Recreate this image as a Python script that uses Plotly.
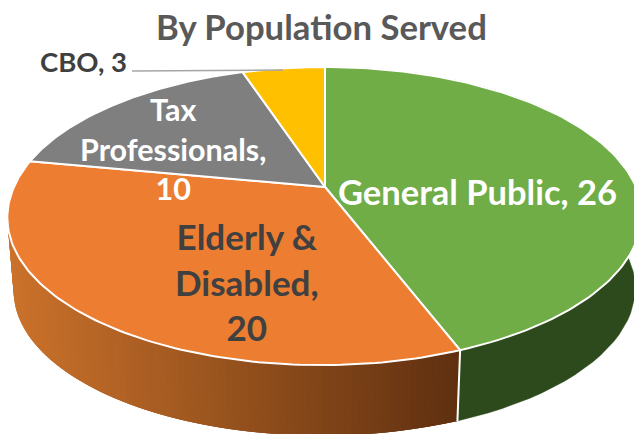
import numpy as np
import plotly.graph_objects as go

# Slice data, clockwise from twelve o'clock
categories = ["General Public", "Elderly & Disabled", "Tax Professionals", "CBO"]
values = [26, 20, 10, 3]
slice_colors = ["#70AD47", "#ED7D31", "#7F7F7F", "#FFC000"]

WIDTH, HEIGHT = 634, 434

# Perspective camera for the pie, in canvas pixels
CX, CY = 325.0, 187.0
RX, RY = 311.0, 143.4
TILT = 0.195
SHEAR = -0.02
DEPTH = 74.0
BASE_SCALE = 0.98


def project(deg, lowered=False):
    """Map a clockwise angle on the pie's rim to canvas coordinates."""
    a = np.radians(deg)
    u, v = np.sin(a), np.cos(a)
    w = 1 + TILT * v
    y = CY - RY * v / w
    # The near half of the rim leans slightly left
    x = CX + RX * u / w + SHEAR * np.maximum(y - CY, 0)
    if lowered:
        x = CX + (x - CX) * BASE_SCALE
        y = CY + (y - CY) * BASE_SCALE + DEPTH
    return x, y


def lerp_color(c0, c1, t):
    return "rgb({},{},{})".format(*[round(a + (b - a) * t) for a, b in zip(c0, c1)])


def patch(xs, ys, fill, line_color, line_width):
    return go.Scatter(
        x=list(xs), y=list(ys), mode="lines", fill="toself", fillcolor=fill,
        line=dict(color=line_color, width=line_width), hoverinfo="skip", showlegend=False,
    )


edges = np.concatenate([[0], np.cumsum(values)]) / sum(values) * 360
fig = go.Figure()

# Outer wall: green stays flat, orange darkens toward the front right
green_steps = np.linspace(edges[0], edges[1], 60)
tx, ty = project(green_steps)
bx, by = project(green_steps, True)
fig.add_trace(patch(np.r_[tx, bx[::-1]], np.r_[ty, by[::-1]], "#2C4A1C", "#2C4A1C", 0.5))

# Each orange band reaches back under the band painted after it, so no seams show
orange_light, orange_dark = (203, 114, 43), (94, 47, 15)
orange_steps = np.linspace(edges[1], min(edges[2], 285), 110)
orange_x = project(orange_steps)[0]
x_left, x_right = orange_x.min(), orange_x.max()
for k in range(len(orange_steps) - 1, 0, -1):
    seg = orange_steps[max(k - 3, 0):k + 1]
    tx, ty = project(seg)
    bx, by = project(seg, True)
    t = (x_right - project(orange_steps[k])[0]) / (x_right - x_left)
    shade = lerp_color(orange_dark, orange_light, t)
    fig.add_trace(patch(np.r_[tx, bx[::-1]], np.r_[ty, by[::-1]], shade, shade, 0.01))

# Seam between the two visible wall sections
sx, sy = project(edges[1])
lx, ly = project(edges[1], True)
fig.add_trace(go.Scatter(x=[sx, lx], y=[sy, ly], mode="lines",
                         line=dict(color="white", width=2), hoverinfo="skip", showlegend=False))

# Top face
for i, color in enumerate(slice_colors):
    steps = np.linspace(edges[i], edges[i + 1], 120)
    x, y = project(steps)
    fig.add_trace(patch(np.r_[CX, x, CX], np.r_[CY, y, CY], color, "white", 2))

# Leader line for the outside label
fig.add_trace(go.Scatter(x=[132, 283], y=[71, 70], mode="lines",
                         line=dict(color="#A6A6A6", width=1.5), hoverinfo="skip", showlegend=False))


def label(text, x, y, size, color):
    fig.add_annotation(x=x, y=y, text=f"<b>{text}</b>", showarrow=False, align="center",
                       font=dict(family="Lato", size=size, color=color))


label("By Population Served", 321, 26, 34.7, "#595959")
label(f"{categories[3]}, {values[3]}", 83, 61, 27.5, "#404040")
label(f"Tax<br>Professionals,<br>{values[2]}", 173, 148, 30.5, "white")
label(f"General Public, {values[0]}", 477, 191, 34.5, "white")
label(f"Elderly &<br>Disabled,<br>{values[1]}", 247, 281, 35, "#404040")

fig.update_layout(
    width=WIDTH, height=HEIGHT, margin=dict(l=0, r=0, t=0, b=0),
    paper_bgcolor="white", plot_bgcolor="white", showlegend=False,
    xaxis=dict(range=[0, WIDTH], visible=False),
    yaxis=dict(range=[HEIGHT, 0], visible=False),
)
fig.write_html("out.html", config=dict(displayModeBar=False))
